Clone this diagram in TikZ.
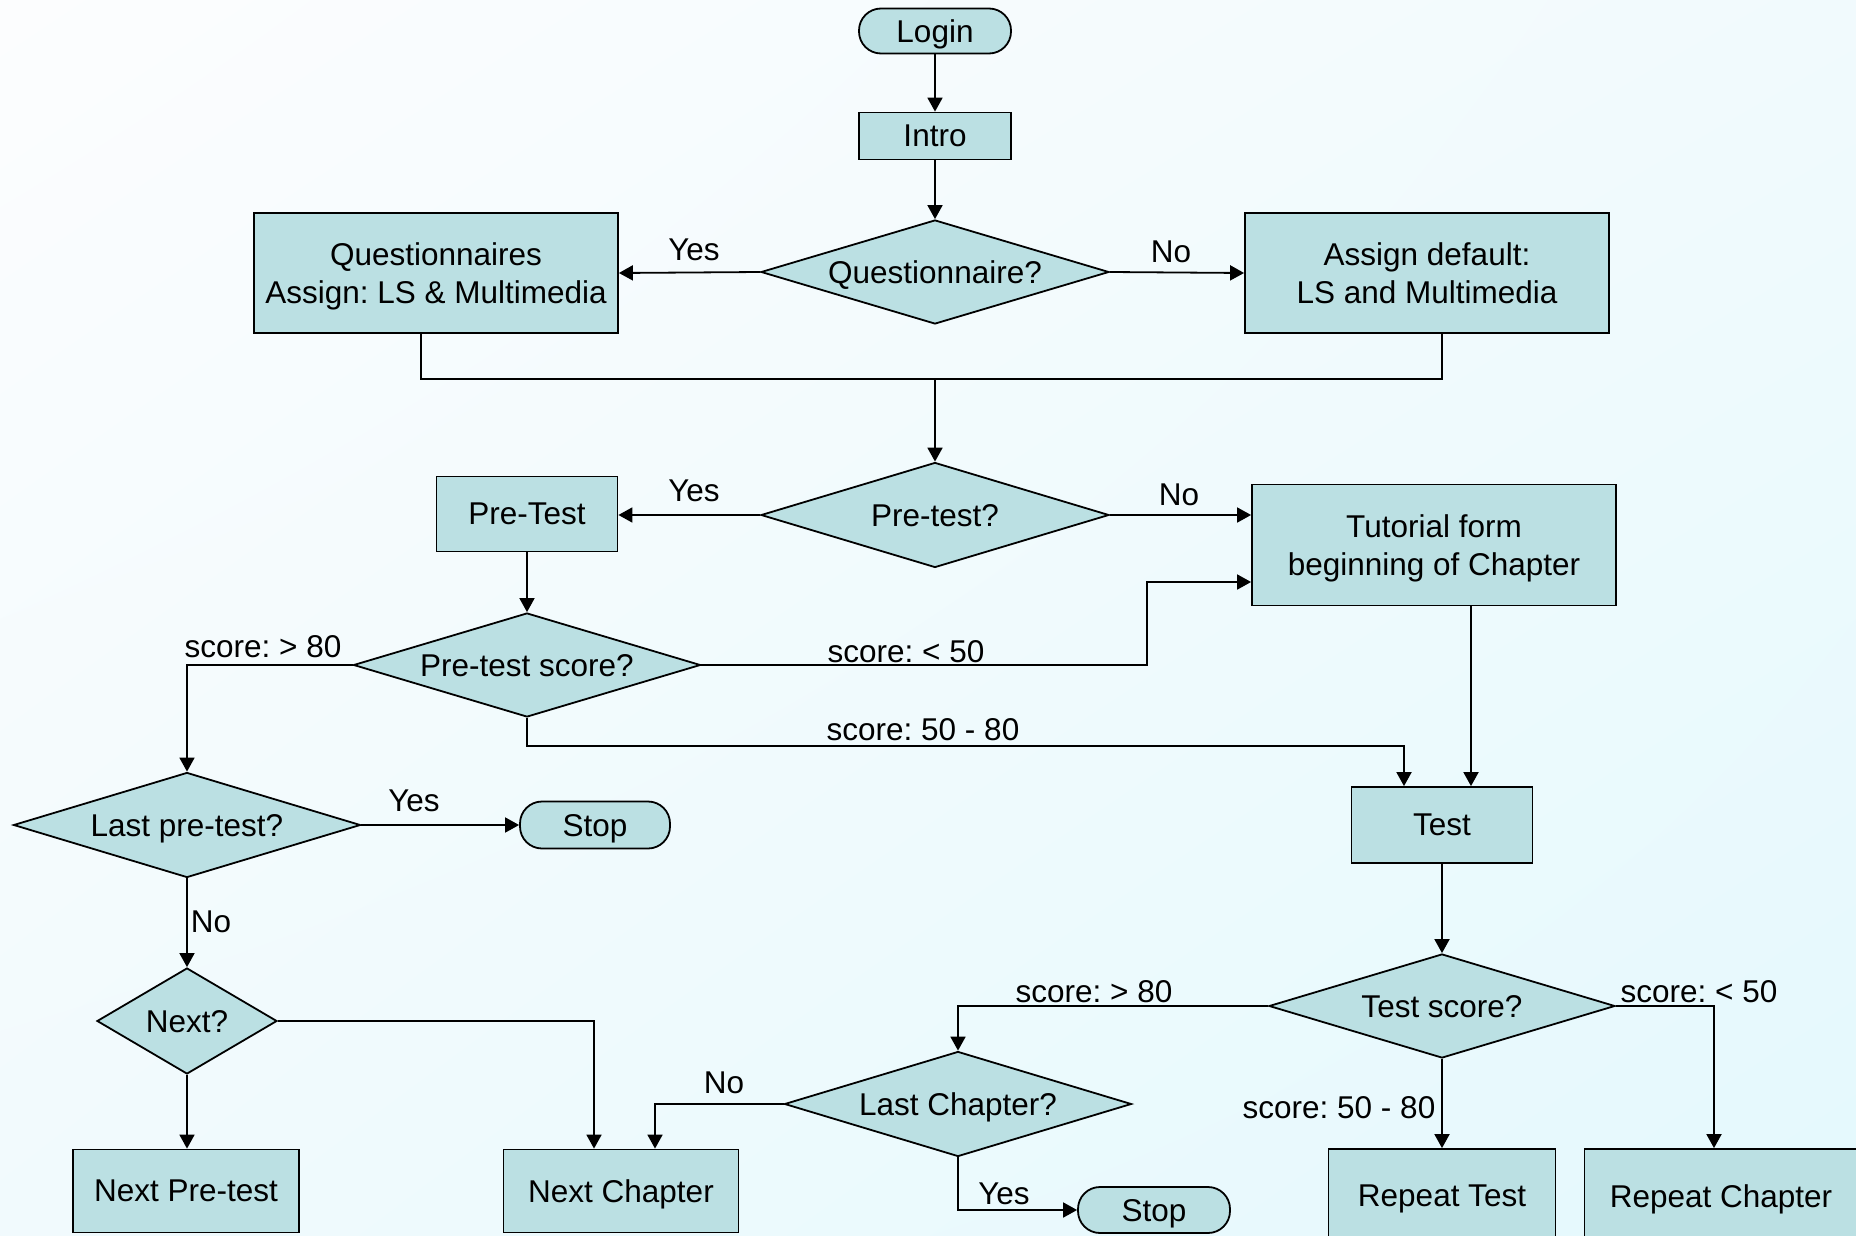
\documentclass[tikz,border=0pt]{standalone}
\usepackage{fontspec}
\setmainfont{Liberation Sans}
\usetikzlibrary{arrows.meta,shapes.geometric,shadings}
\definecolor{boxfill}{HTML}{BBE0E3}
\definecolor{bgtl}{HTML}{FCFDFE}
\definecolor{bgmid}{HTML}{F1FAFD}
\definecolor{bgbr}{HTML}{E4F9FD}

\begin{document}
\frenchspacing
\begin{tikzpicture}[x=1pt,y=-1pt,
  every node/.style={font=\fontsize{31.5}{38}\selectfont},
  shp/.style={draw=black, fill=boxfill, line width=1.8pt, inner sep=0pt, align=center, text depth=0pt},
  box/.style={shp, rectangle},
  cond/.style={shp, diamond, aspect=3.3},
  term/.style={shp, rectangle, rounded corners=22pt},
  lbl/.style={inner sep=0pt, text depth=0pt},
  flow/.style={draw=black, line width=1.8pt, -{Triangle[length=14pt,width=15pt]}},
  mergeline/.style={draw=black, line width=1.8pt}
]
\useasboundingbox (0,0) rectangle (1856,1236);
\clip (0,0) rectangle (1856,1236);
\shade[upper left=bgtl, upper right=bgmid, lower left=bgmid, lower right=bgbr]
  (0,0) rectangle (1856,1236);

% --- nodes ---
\node[term, minimum width=152pt, minimum height=45pt] (login) at (935,31) {Login};
\node[box, minimum width=152pt, minimum height=47pt] (intro) at (935,136) {Intro};
\node[cond, minimum width=348pt, minimum height=104pt] (qq) at (935,272) {Questionnaire?};
\node[box, minimum width=364pt, minimum height=120pt] (qs) at (436,273) {Questionnaires\\Assign: LS \& Multimedia};
\node[box, minimum width=364pt, minimum height=120pt] (ad) at (1427,273) {Assign default:\\LS and Multimedia};
\node[cond, minimum width=348pt, minimum height=105pt] (ptq) at (935,515) {Pre-test?};
\node[box, minimum width=181pt, minimum height=75pt] (pre) at (527,514) {Pre-Test};
\node[box, minimum width=364pt, minimum height=121pt] (tut) at (1434,545) {Tutorial form\\beginning of Chapter};
\node[cond, minimum width=347pt, minimum height=104pt] (pts) at (527,665) {Pre-test score?};
\node[cond, minimum width=347pt, minimum height=105pt] (lpt) at (187,825) {Last pre-test?};
\node[term, minimum width=150pt, minimum height=47pt] (stopa) at (595,825) {Stop};
\node[box, minimum width=181pt, minimum height=76pt] (test) at (1442,825) {Test};
\node[cond, minimum width=346pt, minimum height=104pt] (ts) at (1442,1006) {Test score?};
\node[cond, aspect=1.7, minimum width=180pt, minimum height=106pt] (nx) at (187,1021) {Next?};
\node[box, minimum width=226pt, minimum height=83pt] (npt) at (186,1191) {Next Pre-test};
\node[box, minimum width=235pt, minimum height=83pt] (nc) at (621,1191) {Next Chapter};
\node[cond, minimum width=347pt, minimum height=105pt] (lc) at (958,1104) {Last Chapter?};
\node[term, minimum width=152pt, minimum height=46pt] (stopb) at (1154,1210) {Stop};
\node[box, minimum width=227pt, minimum height=94pt] (rt) at (1442,1196) {Repeat Test};
\node[box, minimum width=273pt, minimum height=94pt] (rc) at (1721,1196) {Repeat Chapter};

% --- bend points ---
\coordinate (m1) at (421,379);
\coordinate (m2) at (1442,379);
\coordinate (c1) at (1147,582);
\coordinate (c2) at (1404,746);
\coordinate (c3) at (1471,700);
\coordinate (c4) at (1714,1100);
\coordinate (c5) at (655,1100);
\coordinate (c6) at (594,1100);

% --- connectors ---
\draw[flow] (login) -- (intro);
\draw[flow] (intro) -- (qq);
\draw[flow] (qq.west) -- (qs.east);
\draw[flow] (qq.east) -- (ad.west);
\draw[mergeline] (m1 |- qs.south) -- (m1) -- (m2) -- (m2 |- ad.south);
\draw[flow] (m1 -| ptq.north) -- (ptq.north);
\draw[flow] (ptq.west) -- (ptq.west -| pre.east);
\draw[flow] (ptq.east) -- (ptq.east -| tut.west);
\draw[flow] (pre) -- (pts);
\draw[flow] (pts.west) -| (lpt.north);
\draw[flow] (pts.east) -| (c1) -- (c1 -| tut.west);
\draw[flow] (pts.south) |- (c2) -- (c2 |- test.north);
\draw[flow] (c3 |- tut.south) -- (c3 |- test.north);
\draw[flow] (lpt.east) -- (stopa.west);
\draw[flow] (lpt.south) -- (nx.north);
\draw[flow] (nx.south) -- (nx.south |- npt.north);
\draw[flow] (nx.east) -| (c6 |- nc.north);
\draw[flow] (test) -- (ts);
\draw[flow] (ts.west) -| (lc.north);
\draw[flow] (ts.east) -| (c4 |- rc.north);
\draw[flow] (ts.south) -- (rt.north);
\draw[flow] (lc.west) -| (c5 |- nc.north);
\draw[flow] (lc.south) |- (stopb.west);

% --- branch labels ---
\node[lbl] (l1) at (694,250) {Yes};
\node[lbl] (l2) at (1171,252) {No};
\node[lbl] (l3) at (694,491) {Yes};
\node[lbl] (l4) at (1179,495) {No};
\node[lbl] (l5) at (263,646) {score: > 80};
\node[lbl] (l6) at (906,651) {score: < 50};
\node[lbl] (l7) at (923,729) {score: 50 - 80};
\node[lbl] (l8) at (414,801) {Yes};
\node[lbl] (l9) at (211,922) {No};
\node[lbl] (l10) at (1094,991) {score: > 80};
\node[lbl] (l11) at (1699,991) {score: < 50};
\node[lbl] (l12) at (1339,1107) {score: 50 - 80};
\node[lbl] (l13) at (724,1083) {No};
\node[lbl] (l14) at (1004,1194) {Yes};
\end{tikzpicture}
\end{document}
